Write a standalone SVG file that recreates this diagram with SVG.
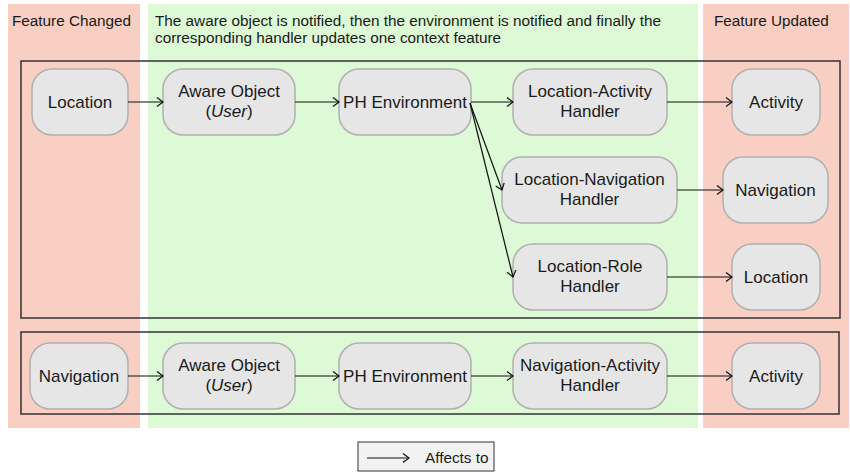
<svg xmlns="http://www.w3.org/2000/svg" width="850" height="473" viewBox="0 0 850 473">
<defs>
<style>
.red{fill:#f8cfc2}
.green{fill:#ddf9d5}
.frame{fill:none;stroke:#333;stroke-width:1.5}
.node rect{fill:#e6e6e6;stroke:#b0b0b0;stroke-width:1.5}
text{font-family:"Liberation Sans",Arial,sans-serif;fill:#1a1a1a}
.nt{font-size:17px;text-anchor:middle}
.hd{font-size:15.3px}
.conn line{stroke:#111;stroke-width:1.2;marker-end:url(#arr)}
</style>
<marker id="arr" markerUnits="userSpaceOnUse" markerWidth="10" markerHeight="12" refX="7" refY="5" orient="auto">
<path d="M1,0.5 L7,5 L1,9.5" fill="none" stroke="#111" stroke-width="1.2"/>
</marker>
</defs>
<rect width="850" height="473" fill="#fff"/>
<g id="bands">
<rect class="red" x="8" y="4" width="132" height="424"/>
<rect class="green" x="148" y="4" width="550" height="424"/>
<rect class="red" x="703" y="4" width="146" height="424"/>
<line x1="703.5" y1="4" x2="703.5" y2="428" stroke="#e0d6f0" stroke-width="1" stroke-dasharray="1,1"/>
</g>
<g id="headers">
<text class="hd" x="12" y="26">Feature Changed</text>
<text class="hd" x="155" y="26">The aware object is notified, then the environment is notified and finally the</text>
<text class="hd" x="155" y="43">corresponding handler updates one context feature</text>
<text class="hd" x="714" y="26">Feature Updated</text>
</g>
<g id="frames">
<rect class="frame" x="21" y="61" width="819" height="257"/>
<rect class="frame" x="21" y="332" width="818" height="82"/>
</g>
<g id="n-location1" class="node"><rect x="32" y="69" width="96" height="66" rx="20"/><text class="nt" x="80" y="108">Location</text></g>
<g id="n-aware1" class="node"><rect x="163" y="69" width="132" height="66" rx="20"/><text class="nt" x="229" y="97">Aware Object</text><text class="nt" x="229" y="117">(<tspan font-style="italic">User</tspan>)</text></g>
<g id="n-ph1" class="node"><rect x="339" y="69" width="132" height="66" rx="20"/><text class="nt" x="405" y="108">PH Environment</text></g>
<g id="n-lah" class="node"><rect x="513" y="69" width="154" height="66" rx="20"/><text class="nt" x="590" y="97">Location-Activity</text><text class="nt" x="590" y="117">Handler</text></g>
<g id="n-activity1" class="node"><rect x="732" y="69" width="88" height="66" rx="20"/><text class="nt" x="776" y="108">Activity</text></g>
<g id="n-lnh" class="node"><rect x="502" y="157" width="175" height="66" rx="20"/><text class="nt" x="589.5" y="185">Location-Navigation</text><text class="nt" x="589.5" y="205">Handler</text></g>
<g id="n-navigation1" class="node"><rect x="723" y="157" width="105" height="66" rx="20"/><text class="nt" x="775.5" y="196">Navigation</text></g>
<g id="n-lrh" class="node"><rect x="513" y="244" width="154" height="66" rx="20"/><text class="nt" x="590" y="272">Location-Role</text><text class="nt" x="590" y="292">Handler</text></g>
<g id="n-location2" class="node"><rect x="732" y="244" width="88" height="66" rx="20"/><text class="nt" x="776" y="283">Location</text></g>
<g id="n-navigation2" class="node"><rect x="30" y="343" width="98" height="66" rx="20"/><text class="nt" x="79" y="382">Navigation</text></g>
<g id="n-aware2" class="node"><rect x="163" y="343" width="132" height="66" rx="20"/><text class="nt" x="229" y="371">Aware Object</text><text class="nt" x="229" y="391">(<tspan font-style="italic">User</tspan>)</text></g>
<g id="n-ph2" class="node"><rect x="339" y="343" width="132" height="66" rx="20"/><text class="nt" x="405" y="382">PH Environment</text></g>
<g id="n-nah" class="node"><rect x="513" y="343" width="154" height="66" rx="20"/><text class="nt" x="590" y="371">Navigation-Activity</text><text class="nt" x="590" y="391">Handler</text></g>
<g id="n-activity2" class="node"><rect x="732" y="343" width="88" height="66" rx="20"/><text class="nt" x="776" y="382">Activity</text></g>
<g id="connectors" class="conn">
<line x1="128" y1="102" x2="163" y2="102"/>
<line x1="295" y1="102" x2="339" y2="102"/>
<line x1="471" y1="102" x2="513" y2="102"/>
<line x1="667" y1="102" x2="732" y2="102"/>
<line x1="470" y1="103" x2="502" y2="190"/>
<line x1="470" y1="103" x2="513" y2="277"/>
<line x1="677" y1="190" x2="723" y2="190"/>
<line x1="667" y1="277" x2="732" y2="277"/>
<line x1="128" y1="376" x2="163" y2="376"/>
<line x1="295" y1="376" x2="339" y2="376"/>
<line x1="471" y1="376" x2="513" y2="376"/>
<line x1="667" y1="376" x2="732" y2="376"/>
</g>
<g id="legend">
<rect x="358" y="442" width="136" height="29" fill="#f2f2f2" stroke="#333" stroke-width="1"/>
<line x1="367" y1="458" x2="409" y2="458" stroke="#111" stroke-width="1.2" marker-end="url(#arr)"/>
<text x="425" y="463" style="font-size:15.3px">Affects to</text>
</g>
</svg>
